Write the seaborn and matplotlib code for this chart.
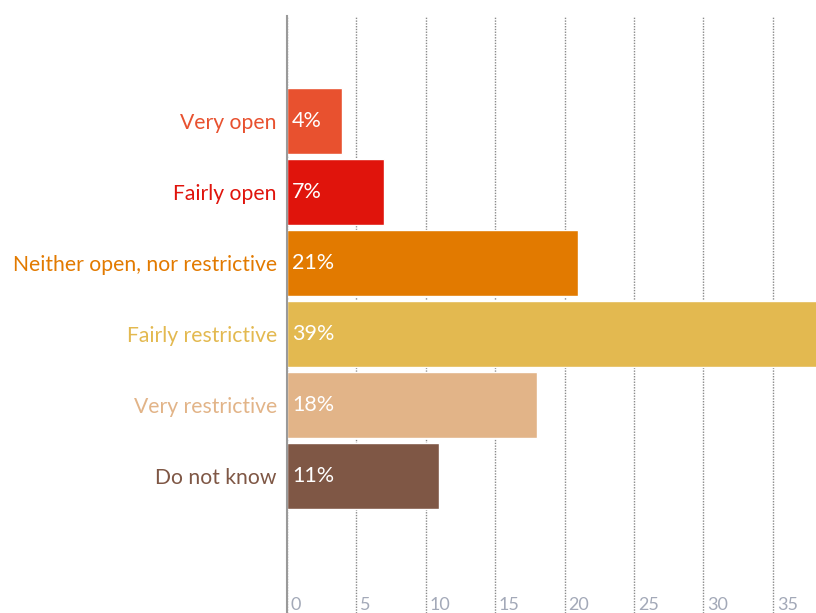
import matplotlib
matplotlib.use('Agg')
import matplotlib.pyplot as plt
import seaborn as sns
import pandas as pd

# Dados
categorias = ['Very open', 'Fairly open', 'Neither open, nor restrictive',
              'Fairly restrictive', 'Very restrictive', 'Do not know']
valores = [4, 7, 21, 39, 18, 11]
rotulos = ['4%', '7%', '21%', '39%', '18%', '11%']
cores = ['#e8512f', '#e0140c', '#e27a00', '#e3b950', '#e2b488', '#7f5745']
x_ticks = [0, 5, 10, 15, 20, 25, 30, 35]

df = pd.DataFrame({'categoria': categorias, 'valor': valores})

sns.set_style('white')
plt.rcParams['font.family'] = ['Lato', 'DejaVu Sans']

fig = plt.figure(figsize=(8.16, 6.13), dpi=100)
ax = fig.add_axes([0.3513, 0.0, 0.6487, 0.9746])

sns.barplot(data=df, y='categoria', x='valor', hue='categoria', palette=cores,
            orient='h', width=0.93, legend=False, ax=ax, saturation=1, zorder=2)

ax.set_xlim(0, 38.1)
ax.set_ylim(6.93, -1.49)
ax.set_xlabel('')
ax.set_ylabel('')

# grade pontilhada
ax.set_xticks(x_ticks)
ax.grid(axis='x', linestyle=(0, (1, 1)), color='#8a8a8a', linewidth=1, zorder=0)
ax.set_axisbelow(True)
ax.tick_params(axis='x', length=0, labelbottom=False)
for t in x_ticks:
    ax.text(t + 0.28, 0.0, str(t), transform=ax.get_xaxis_transform(),
            ha='left', va='bottom', fontsize=13, color='#a3a9b8')

for s in ['top', 'right', 'bottom']:
    ax.spines[s].set_visible(False)
ax.spines['left'].set_color('#9a9a9a')
ax.spines['left'].set_linewidth(1.5)

ax.tick_params(axis='y', length=0, pad=7, labelsize=15.2)
for lbl, c in zip(ax.get_yticklabels(), cores):
    lbl.set_color(c)

# rótulos de porcentagem
for i, r in enumerate(rotulos):
    ax.text(0.4, i, r, ha='left', va='center', fontsize=15.5, color='white')

fig.savefig('out.png', dpi=100)
